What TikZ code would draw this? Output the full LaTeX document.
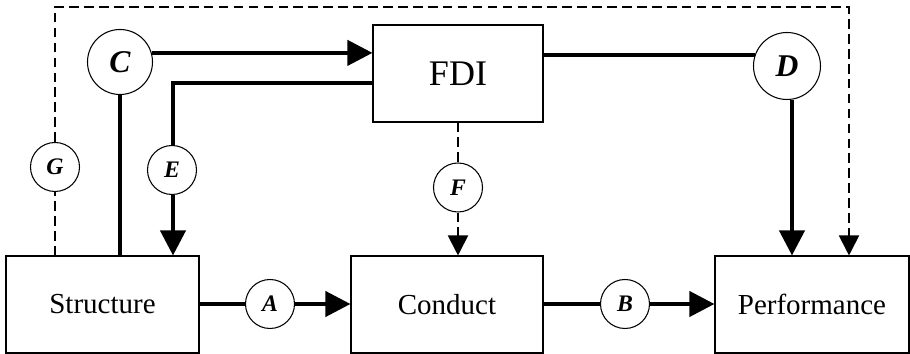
\documentclass[tikz,border=0pt]{standalone}
\usepackage{fontspec}
\setmainfont{Liberation Serif}
\usetikzlibrary{arrows.meta}

\begin{document}
\begin{tikzpicture}[scale=1]
    % Styles
    \tikzset{
        box/.style={draw,line width=0.6pt,minimum width=3.86cm,minimum height=1.94cm,font=\fontsize{16.5}{20}\selectfont},
        big letter/.style={circle,draw,line width=0.6pt,minimum size=1.3cm,inner sep=0pt,font=\fontsize{18}{21}\selectfont\bfseries\itshape},
        small letter/.style={circle,draw,line width=0.6pt,minimum size=0.98cm,inner sep=0pt,font=\fontsize{13.5}{16}\selectfont\bfseries\itshape},
        thick link/.style={line width=2.3pt},
        thick arrow/.style={thick link,-{Triangle[length=0.5cm,width=0.5cm]}},
        dash link/.style={line width=1.1pt,dash pattern=on 5.5pt off 3pt},
        dash arrow/.style={dash link,-{Triangle[length=0.4cm,width=0.4cm]}}
    }
    \useasboundingbox (0,0) rectangle (18.2,7.08);

    % --- Bottom row: the three boxes ---
    \node[box] (struct) at (2.05,0.99) {Structure};
    \node[box, minimum width=3.84cm] (conduct) at (8.94,0.99) {Conduct};
    \node[box, minimum width=3.88cm] (perf) at (16.24,0.99) {Performance};

    % --- Top box ---
    \node[box, minimum width=3.4cm, font=\fontsize{20.5}{24}\selectfont] (fdi) at (9.16,5.61) {FDI};

    % --- Letter circles ---
    \node[small letter] (A) at (5.4,1.0) {A};
    \node[small letter] (B) at (12.5,1.0) {B};
    \node[big letter] (C) at (2.4,5.84) {C};
    \node[big letter, minimum size=1.34cm] (D) at (15.74,5.76) {D};
    \node[small letter] (E) at (3.44,3.68) {E};
    \node[small letter] (F) at (9.16,3.33) {F};
    \node[small letter] (G) at (1.1,3.74) {G};

    % Bend points
    \coordinate (eTop) at (3.46,5.42);
    \coordinate (gLeft) at (1.1,6.94);
    \coordinate (gRight) at (16.98,6.94);

    % --- Bottom row links ---
    \draw[thick link] (struct.east |- A) -- (A.west);
    \draw[thick arrow] (A.east) -- (conduct.west |- A);
    \draw[thick link] (conduct.east |- B) -- (B.west);
    \draw[thick arrow] (B.east) -- (perf.west |- B);

    % --- C links ---
    \draw[thick arrow] (C.16) -- (C.16 -| fdi.west);
    \draw[thick link] (C.south) -- (C.south |- struct.north);

    % --- E links ---
    \draw[thick link] (fdi.west |- eTop) -- (eTop) -- (eTop |- E.north);
    \draw[thick arrow] (eTop |- E.south) -- (eTop |- struct.north);

    % --- D links ---
    \draw[thick link] (fdi.east |- D.161) -- (D.161);
    \draw[thick arrow] ([xshift=0.1cm]D.south) -- ([xshift=0.1cm]D.south |- perf.north);

    % --- F links ---
    \draw[dash link] (fdi.south) -- (F.north);
    \draw[dash arrow] (F.south) -- (conduct.north -| F.south);

    % --- G link (dashed loop over the top) ---
    \draw[dash link] (gLeft |- struct.north) -- (G.south);
    \draw[dash arrow] (G.north) -- (gLeft) -- (gRight) -- (gRight |- perf.north);
\end{tikzpicture}
\end{document}
